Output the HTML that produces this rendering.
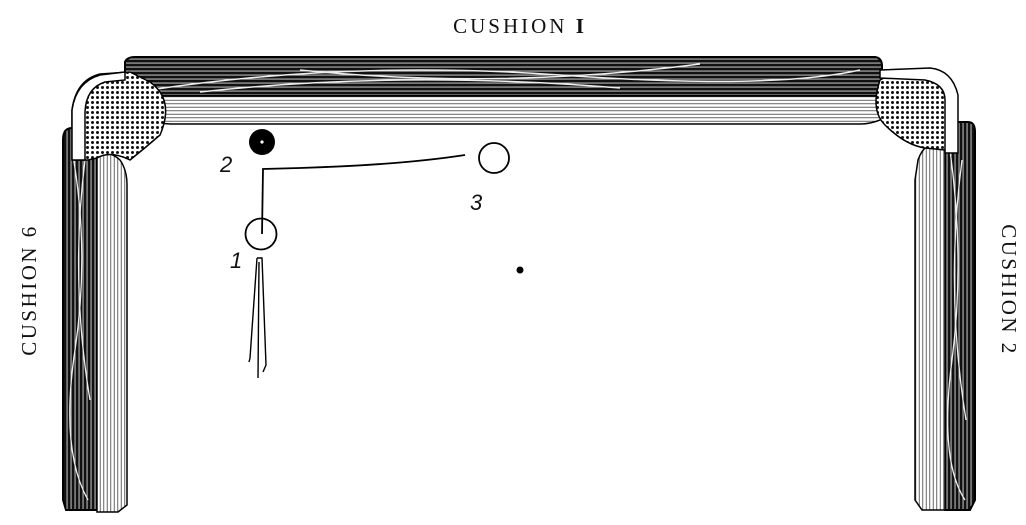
<!DOCTYPE html>
<html><head><style>html,body{margin:0;padding:0;background:#fff;width:1026px;height:525px;overflow:hidden}</style></head>
<body>
<svg width="1026" height="525" viewBox="0 0 1026 525" xmlns="http://www.w3.org/2000/svg">
<defs>
<pattern id="dark" width="6" height="4" patternUnits="userSpaceOnUse"><rect width="6" height="4" fill="#111"/><rect y="2.6" width="6" height="0.9" fill="#ddd"/></pattern>
<pattern id="darkv" width="4" height="6" patternUnits="userSpaceOnUse"><rect width="4" height="6" fill="#111"/><rect x="2.6" width="0.9" height="6" fill="#ddd"/></pattern>
<pattern id="light" width="6" height="3.5" patternUnits="userSpaceOnUse"><rect width="6" height="3.5" fill="#fff"/><rect y="1.8" width="6" height="0.9" fill="#555"/></pattern>
<pattern id="lightv" width="3.5" height="6" patternUnits="userSpaceOnUse"><rect width="3.5" height="6" fill="#fff"/><rect x="1.8" width="0.9" height="6" fill="#555"/></pattern>
<pattern id="hatch" width="5" height="5" patternUnits="userSpaceOnUse"><rect width="5" height="5" fill="#fff"/><circle cx="2.5" cy="2.5" r="1.5" fill="#111"/></pattern>
</defs>
<g font-family="Liberation Serif, serif" fill="#111">
<text x="520" y="33" font-size="21" text-anchor="middle" letter-spacing="3">CUSHION  <tspan font-weight="bold">I</tspan></text>
<text transform="translate(36,290) rotate(-90)" font-size="21" text-anchor="middle" letter-spacing="2.5">CUSHION 6</text>
<text transform="translate(1002,290) rotate(90)" font-size="21" text-anchor="middle" letter-spacing="2.5">CUSHION 2</text>
</g>
<!-- top rail -->
<path d="M125 62 Q127 57 135 57 L875 57 Q882 58 882 66 L882 96 L125 96 Z" fill="url(#dark)" stroke="#000" stroke-width="2"/>
<path d="M110 96 L900 96 L900 108 Q880 124 860 124 L170 124 Q140 122 120 108 Z" fill="url(#light)" stroke="#000" stroke-width="1.5"/>
<g stroke="#eee" stroke-width="1.5" fill="none">
<path d="M150 90 Q350 60 560 75 T860 70"/><path d="M200 92 Q400 70 620 88"/><path d="M300 70 Q500 90 700 64"/>
</g>
<!-- left rail -->
<path d="M63 140 Q63 128 72 128 L97 128 L97 510 L66 510 L63 500 Z" fill="url(#darkv)" stroke="#000" stroke-width="2"/>
<path d="M97 155 Q110 150 120 160 Q127 170 127 185 L127 505 L118 512 L97 512 Z" fill="url(#lightv)" stroke="#000" stroke-width="1.5"/>
<g stroke="#eee" stroke-width="1.3" fill="none"><path d="M72 150 Q90 250 75 350 T88 500"/><path d="M85 160 Q70 280 90 400"/></g>
<!-- right rail -->
<path d="M945 122 L968 122 Q975 122 975 132 L975 500 L970 510 L945 510 Z" fill="url(#darkv)" stroke="#000" stroke-width="2"/>
<path d="M945 140 Q925 140 918 160 L915 180 L915 500 L922 510 L945 510 Z" fill="url(#lightv)" stroke="#000" stroke-width="1.5"/>
<g stroke="#eee" stroke-width="1.3" fill="none"><path d="M950 150 Q965 260 952 360 T965 500"/><path d="M962 160 Q945 290 966 420"/></g>
<!-- left corner -->
<path d="M72 160 L72 110 Q76 80 100 74 L130 72 L150 82 Q175 100 160 135 Q145 148 130 160 Q110 150 97 158 L88 160 Z" fill="url(#hatch)" stroke="#000" stroke-width="1.5"/>
<path d="M72 160 L72 110 Q76 82 100 75 L125 72 L125 80 L105 82 Q86 88 85 112 L85 160 Z" fill="#fff" stroke="#000" stroke-width="1.5"/>
<!-- right corner -->
<path d="M955 150 L955 95 Q950 72 930 70 L900 70 L880 80 Q870 110 885 125 Q905 145 925 148 L945 150 Z" fill="url(#hatch)" stroke="#000" stroke-width="1.5"/>
<path d="M958 153 L958 95 Q952 70 930 68 L880 70 L880 78 L925 80 Q945 84 945 100 L945 153 Z" fill="#fff" stroke="#000" stroke-width="1.5"/>
<!-- balls & path -->
<circle cx="262" cy="142" r="13" fill="#000"/><circle cx="262" cy="142" r="1.6" fill="#fff"/>
<circle cx="494" cy="158" r="15" fill="none" stroke="#000" stroke-width="1.8"/>
<circle cx="261" cy="234" r="15.5" fill="none" stroke="#000" stroke-width="1.8"/>
<path d="M262 234 L263 169 L300 168 Q400 165 465 155" fill="none" stroke="#000" stroke-width="1.8"/>
<circle cx="520" cy="270" r="3.5" fill="#000"/>
<path d="M257 258 L262 258 L266 365 L263 372 M257 258 L250 358 L249 362 M259 262 L258 378" fill="none" stroke="#000" stroke-width="1.4"/>
<g font-family="Liberation Sans, sans-serif" font-size="22" font-style="italic" fill="#111">
<text x="220" y="172">2</text><text x="470" y="210">3</text><text x="230" y="268">1</text>
</g>
</svg>
</body></html>
